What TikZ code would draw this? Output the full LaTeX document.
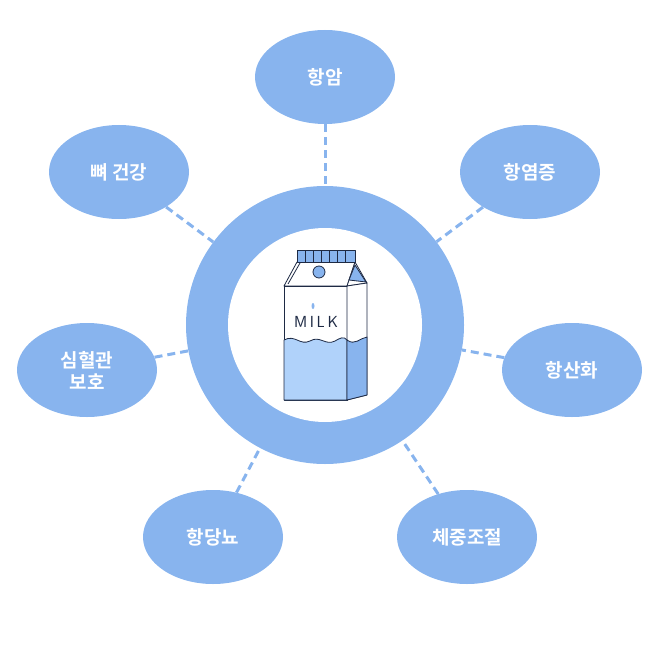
\documentclass[tikz,border=0pt]{standalone}
\usepackage{fontspec}
\newfontfamily\kr{Noto Sans CJK KR Bold}
\usetikzlibrary{shapes.geometric}
\definecolor{mblue}{HTML}{88B4EE}
\definecolor{lblue}{HTML}{B0D2FA}
\definecolor{dblue}{HTML}{1E2A44}
\begin{document}
\begin{tikzpicture}[x=1pt,y=-1pt,
  bub/.style={ellipse,fill=mblue,minimum width=140pt,minimum height=94pt,text=white,font=\kr\fontsize{19}{22}\selectfont,align=center,inner sep=0pt},
  con/.style={draw=mblue,line width=3pt,dash pattern=on 8pt off 5pt}]
\useasboundingbox (0,0) rectangle (650,650);
\node[circle,fill=mblue,minimum size=278pt,inner sep=0pt] (ring) at (325,325) {};
\node[circle,fill=white,minimum size=194pt,inner sep=0pt] (hole) at (325,325) {};
\node[bub] (a) at (325,77) {항암};
\node[bub] (b) at (119,172) {뼈 건강};
\node[bub] (c) at (530,172) {항염증};
\node[bub] (d) at (87,370) {심혈관\\보호};
\node[bub] (e) at (572,370) {항산화};
\node[bub] (f) at (213,537) {항당뇨};
\node[bub] (g) at (467,537) {체중조절};
\foreach \n in {a,b,c,d,e,f,g} \draw[con] (\n) -- (ring);
% carton
\begin{scope}[draw=dblue,line width=0.8pt,line join=round]
\filldraw[fill=white] (284,286) -- (297,262) -- (355,262) -- (347,286) -- cycle;
\filldraw[fill=white] (347,286) -- (355,262) -- (367,283) -- cycle;
\filldraw[fill=mblue] (349,280) -- (355,265) -- (366,282) -- cycle;
\filldraw[fill=white] (284,286) rectangle (347,400);
\filldraw[fill=white] (347,286) -- (367,283) -- (367,395) -- (347,400) -- cycle;
\filldraw[fill=lblue] (284,340) .. controls (295,334) and (300,346) .. (310,341) .. controls (320,335) and (325,346) .. (335,341) .. controls (340,338) and (344,336) .. (347,340) -- (347,400) -- (284,400) -- cycle;
\filldraw[fill=mblue] (347,340) .. controls (355,346) and (360,338) .. (367,337) -- (367,395) -- (347,400) -- cycle;
\filldraw[fill=mblue] (297,262) rectangle (355,250);
\foreach \x in {305,313,321,329,337,345} \draw (\x,250) -- (\x,262);
\filldraw[fill=mblue] (319,272) circle (6);
\draw (288,284) -- (300,263);
\fill[mblue] (313,306) ellipse (1.5 and 3);
\node[text=dblue,font=\sffamily\fontsize{16}{16}\selectfont] (milk) at (316,322) {M\,I\,L\,K};
\end{scope}
\end{tikzpicture}
\end{document}
